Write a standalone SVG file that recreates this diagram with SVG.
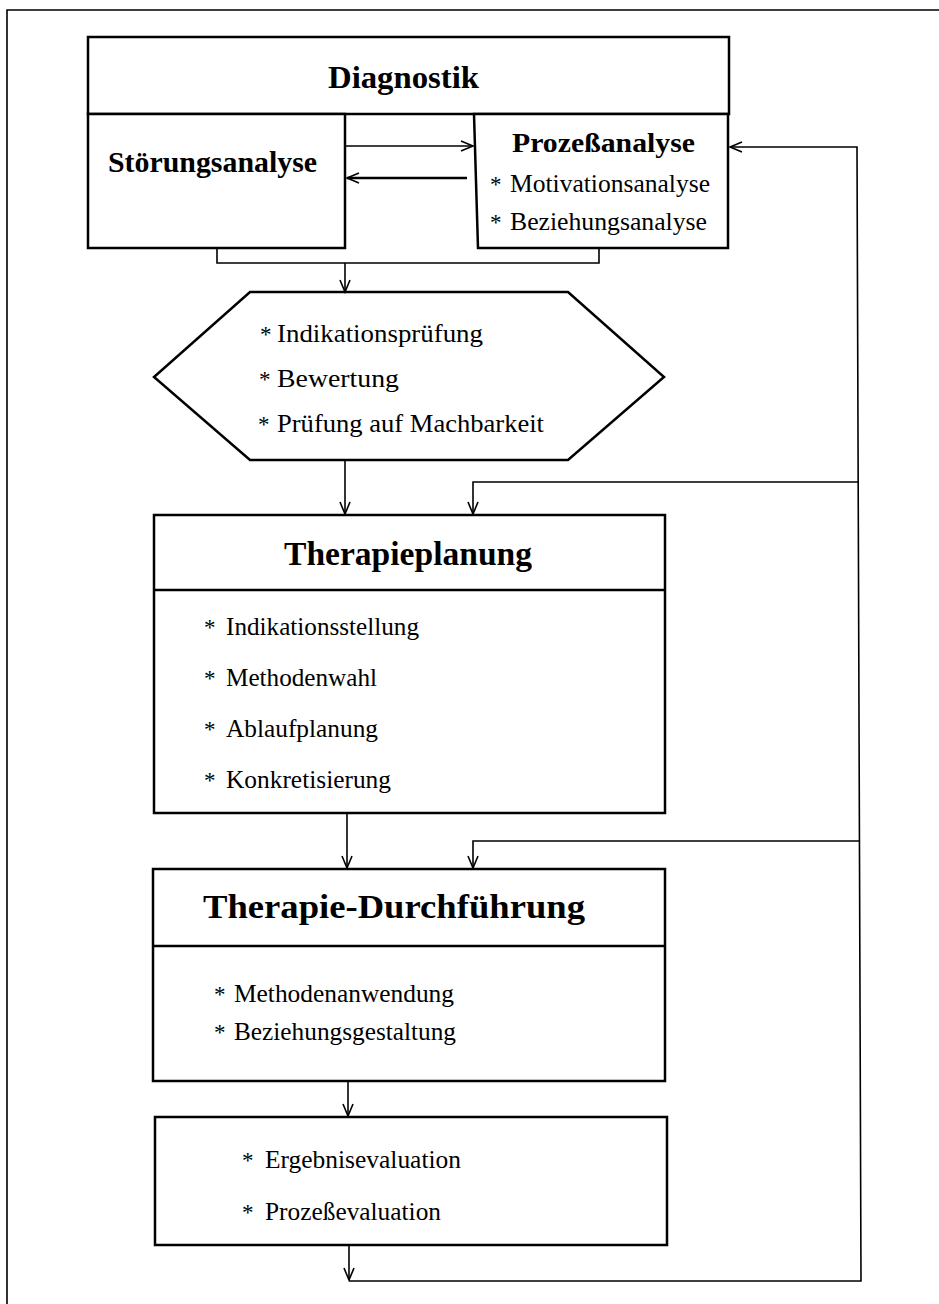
<svg xmlns="http://www.w3.org/2000/svg" width="939" height="1304" viewBox="0 0 939 1304">
  <style>
    .box { fill: #fff; stroke: #000; stroke-width: 2.5; }
    .div { stroke: #000; stroke-width: 2.5; fill: none; }
    .frame { stroke: #000; stroke-width: 1.6; fill: none; }
    .con { stroke: #000; stroke-width: 1.6; fill: none; }
    .con-bold { stroke: #000; stroke-width: 2.6; fill: none; }
    .title { font-family: "Liberation Serif", "DejaVu Serif", serif; font-weight: bold; fill: #000; }
    .item { font-family: "Liberation Serif", "DejaVu Serif", serif; font-size: 25px; fill: #000; }
    .star { font-family: "Liberation Serif", "DejaVu Serif", serif; font-size: 23px; fill: #000; }
  </style>
  <defs>
    <marker id="arrow" markerUnits="userSpaceOnUse" markerWidth="16" markerHeight="14" viewBox="-14 -7 16 14" refX="0" refY="0" orient="auto">
      <path d="M-12,-5 L0,0 L-12,5" fill="none" stroke="#000" stroke-width="1.6"/>
    </marker>
  </defs>

  <rect width="939" height="1304" fill="#fff"/>

  <!-- page frame (top and left border) -->
  <path class="frame" d="M939,10 H7 V1304"/>

  <!-- Diagnostik header -->
  <g id="diagnostik">
    <rect class="box" x="88" y="37" width="641" height="77"/>
    <text class="title" x="328" y="88" font-size="32" textLength="151" lengthAdjust="spacingAndGlyphs">Diagnostik</text>
  </g>

  <g id="stoerungsanalyse">
    <rect class="box" x="88" y="114" width="257" height="134"/>
    <text class="title" x="108" y="172" font-size="29" textLength="209" lengthAdjust="spacingAndGlyphs">Störungsanalyse</text>
  </g>

  <g id="prozessanalyse">
    <polygon class="box" points="474,114 728,114 728,248 478,248"/>
    <text class="title" x="512" y="152" font-size="27" textLength="183" lengthAdjust="spacingAndGlyphs">Prozeßanalyse</text>
    <text class="star" x="490" y="192">*</text>
    <text class="item" x="510" y="192" textLength="200" lengthAdjust="spacingAndGlyphs">Motivationsanalyse</text>
    <text class="star" x="490" y="230">*</text>
    <text class="item" x="510" y="230" textLength="197" lengthAdjust="spacingAndGlyphs">Beziehungsanalyse</text>
  </g>

  <!-- evaluation / decision hexagon -->
  <g id="bewertung">
    <polygon class="box" points="250,292 568,292 664,377 568,460 250,460 154,377"/>
    <text class="star" x="260" y="342">*</text>
    <text class="item" x="277" y="342" font-size="26.5" textLength="206" lengthAdjust="spacingAndGlyphs">Indikationsprüfung</text>
    <text class="star" x="259" y="387">*</text>
    <text class="item" x="277" y="387" font-size="26.5" textLength="122" lengthAdjust="spacingAndGlyphs">Bewertung</text>
    <text class="star" x="258" y="432">*</text>
    <text class="item" x="277" y="432" font-size="26.5" textLength="267" lengthAdjust="spacingAndGlyphs">Prüfung auf Machbarkeit</text>
  </g>

  <g id="therapieplanung">
    <rect class="box" x="154" y="515" width="511" height="298"/>
    <line class="div" x1="154" y1="590" x2="665" y2="590"/>
    <text class="title" x="284" y="565" font-size="33" textLength="248" lengthAdjust="spacingAndGlyphs">Therapieplanung</text>
    <text class="star" x="204" y="635">*</text>
    <text class="item" x="226" y="635" textLength="193" lengthAdjust="spacingAndGlyphs">Indikationsstellung</text>
    <text class="star" x="204" y="686">*</text>
    <text class="item" x="226" y="686" textLength="151" lengthAdjust="spacingAndGlyphs">Methodenwahl</text>
    <text class="star" x="204" y="737">*</text>
    <text class="item" x="226" y="737" textLength="152" lengthAdjust="spacingAndGlyphs">Ablaufplanung</text>
    <text class="star" x="204" y="788">*</text>
    <text class="item" x="226" y="788" textLength="165" lengthAdjust="spacingAndGlyphs">Konkretisierung</text>
  </g>

  <g id="durchfuehrung">
    <rect class="box" x="153" y="869" width="512" height="212"/>
    <line class="div" x1="153" y1="946" x2="665" y2="946"/>
    <text class="title" x="203" y="918" font-size="34" textLength="382" lengthAdjust="spacingAndGlyphs">Therapie-Durchführung</text>
    <text class="star" x="214" y="1002">*</text>
    <text class="item" x="234" y="1002" textLength="220" lengthAdjust="spacingAndGlyphs">Methodenanwendung</text>
    <text class="star" x="214" y="1040">*</text>
    <text class="item" x="234" y="1040" textLength="222" lengthAdjust="spacingAndGlyphs">Beziehungsgestaltung</text>
  </g>

  <g id="evaluation">
    <rect class="box" x="155" y="1117" width="512" height="128"/>
    <text class="star" x="242" y="1168">*</text>
    <text class="item" x="265" y="1168" textLength="196" lengthAdjust="spacingAndGlyphs">Ergebnisevaluation</text>
    <text class="star" x="242" y="1220">*</text>
    <text class="item" x="265" y="1220" textLength="176" lengthAdjust="spacingAndGlyphs">Prozeßevaluation</text>
  </g>

  <!-- connectors -->
  <g id="connectors">
    <path class="con" d="M345,146 H473" marker-end="url(#arrow)"/>
    <path class="con-bold" d="M467,178 H347" marker-end="url(#arrow)"/>
    <path class="con" d="M217,248 V263 H599 V248"/>
    <path class="con" d="M345,263 V292" marker-end="url(#arrow)"/>
    <path class="con" d="M345,460 V514" marker-end="url(#arrow)"/>
    <path class="con" d="M347,813 V868" marker-end="url(#arrow)"/>
    <path class="con" d="M348,1081 V1116" marker-end="url(#arrow)"/>
    <path class="con" d="M349,1245 V1280" marker-end="url(#arrow)"/>
    <path class="con" d="M349,1281 H861 L857,147 H730" marker-end="url(#arrow)"/>
    <path class="con" d="M858,482 H473 V514" marker-end="url(#arrow)"/>
    <path class="con" d="M859,841 H473 V868" marker-end="url(#arrow)"/>
  </g>
</svg>
